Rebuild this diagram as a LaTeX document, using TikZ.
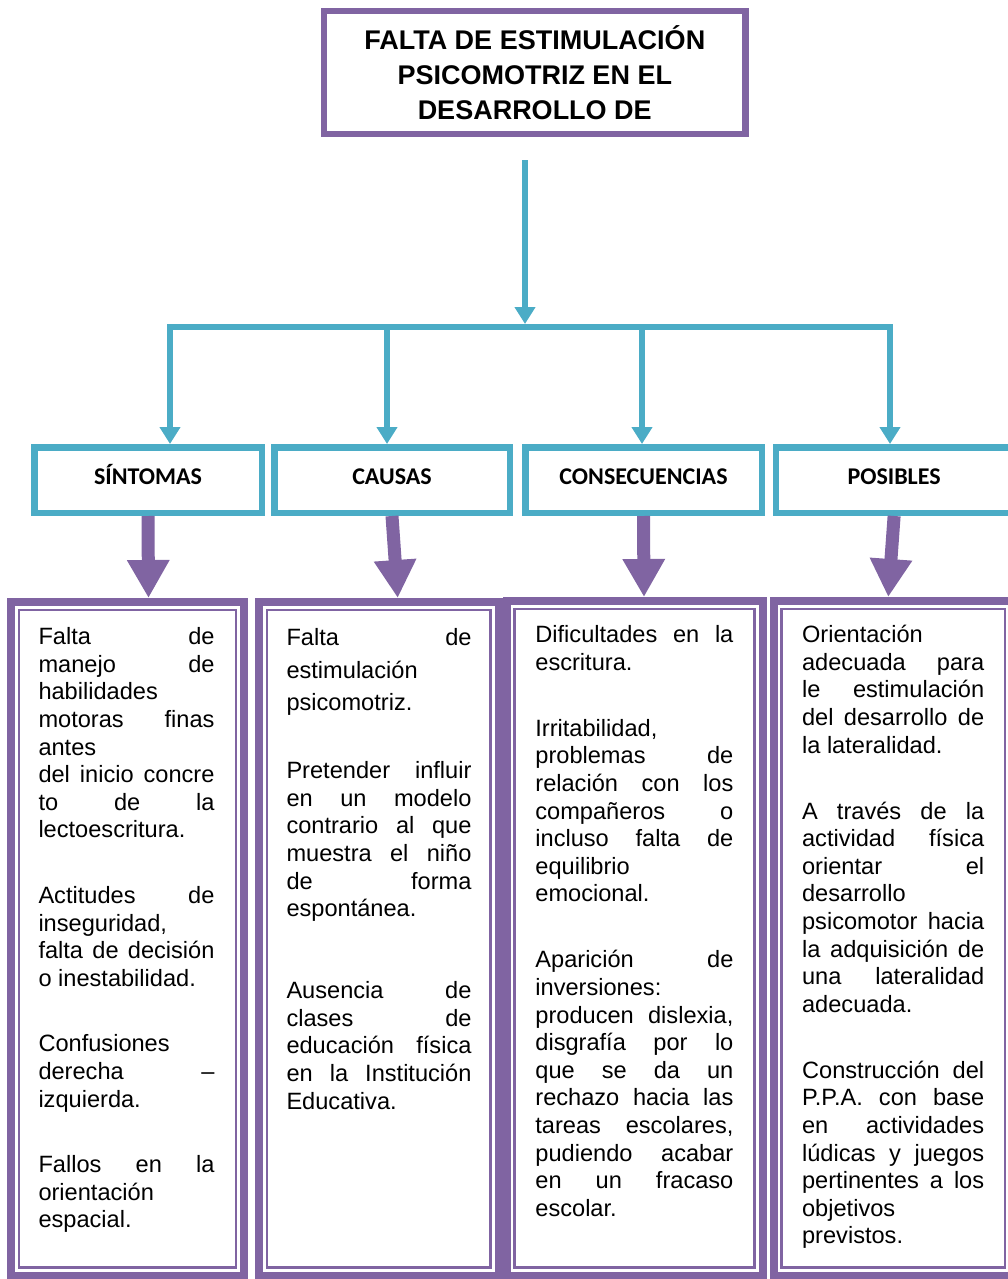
\documentclass[tikz,border=0pt]{standalone}
\usepackage{fontspec}
\setmainfont{Liberation Sans}
\newfontfamily\catfont{Carlito}
\usetikzlibrary{arrows.meta,calc}
\definecolor{boxpurple}{HTML}{8064A2}
\definecolor{boxteal}{HTML}{4BACC6}
\newcommand\jline[1]{\hbox to\hsize{\vrule width0pt height20pt\relax #1}}
\newcommand\lline[1]{\hbox{\spaceskip=0pt\relax\vrule width0pt height20pt\relax #1}}
\newcommand\pbreak[1][38pt]{\vskip #1\relax}
\newcommand\boxtext[2]{\vbox{\hsize=#1\relax\frenchspacing\baselineskip=27.6pt\lineskiplimit=0pt\lineskip=0pt\spaceskip=\fontdimen2\font plus 1fil\relax\xspaceskip=\spaceskip #2}}
\begin{document}
\begin{tikzpicture}[x=1pt,y=-1pt,
  titlebox/.style={draw=boxpurple, line width=6.5pt, minimum width=421.5pt, minimum height=123pt, inner sep=0pt, align=center, font=\bfseries\fontsize{27}{35}\selectfont},
  catbox/.style={draw=boxteal, line width=6.5pt, minimum height=65.5pt, inner sep=0pt, text height=15pt, text depth=7pt, font=\catfont\bfseries\fontsize{24}{28}\selectfont},
  bigbox/.style={draw=boxpurple, line width=8pt, inner sep=0pt},
  txt/.style={anchor=north west, inner sep=0pt, font=\fontsize{23.6}{27.6}\selectfont},
  tealline/.style={draw=boxteal, line width=6pt},
  tealarrow/.style={tealline, -{Triangle[width=20pt,length=17pt]}},
  bigarrow/.style={draw=boxpurple, line width=13pt, -{Triangle[width=40pt,length=38pt]}},
  innerline/.style={draw=boxpurple, line width=2.2pt}]
\useasboundingbox (0,0) rectangle (1008,1279);

% title
\node[titlebox] (title) at (534.75,72.5) {FALTA DE ESTIMULACIÓN\\PSICOMOTRIZ EN EL\\DESARROLLO DE};

% categories
\node[catbox, minimum width=227.5pt] (cat1) at (148,480) {SÍNTOMAS};
\node[catbox, minimum width=235.5pt] (cat2) at (392,480) {CAUSAS};
\node[catbox, minimum width=236.5pt] (cat3) at (643.5,480) {CONSECUENCIAS};
\node[catbox, minimum width=235.75pt] (cat4) at (894.1,480) {POSIBLES};

% big boxes
\node[bigbox, minimum width=233pt, minimum height=673.5pt] (box1) at (127.5,938.75) {};
\node[bigbox, minimum width=239.5pt, minimum height=673.5pt] (box2) at (378.75,938.75) {};
\node[bigbox, minimum width=256pt, minimum height=674.5pt] (box3) at (634.5,938.25) {};
\node[bigbox, minimum width=239.5pt, minimum height=674.5pt] (box4) at (893.25,938.25) {};
\foreach \b in {box1,box2,box3,box4}
  \draw[innerline] ($(\b.north west)+(12,12)$) rectangle ($(\b.south east)+(-12,-12)$);

% teal connectors
\coordinate (topstart) at (525,160);
\coordinate (busT) at (525,324);
\coordinate (b1) at (170,327);
\coordinate (b2) at (387,327);
\coordinate (b3) at (642,327);
\coordinate (b4) at (890,327);
\draw[tealarrow] (topstart) -- (busT);
\draw[tealline, line cap=rect] (b1) -- (b4);
\foreach \i in {1,...,4}
  \draw[tealarrow] (b\i) -- (b\i |- cat\i.north);

% purple block arrows
\draw[bigarrow] (cat1.south) -- ($(box1.north)+(21,0)$);
\draw[bigarrow] (cat2.south) -- ($(box2.north)+(19,0)$);
\draw[bigarrow] (cat3.south) -- ($(box3.north)+(9.5,0)$);
\draw[bigarrow] (cat4.south) -- ($(box4.north)+(-5,0)$);

% texts
\node[txt] (t1) at (38.3,624.5) {\boxtext{176pt}{%
\jline{Falta de}
\jline{manejo de}
\lline{habilidades}
\jline{motoras finas}
\lline{antes}
\jline{del inicio concre}
\jline{to de la}
\lline{lectoescritura.}
\pbreak
\jline{Actitudes de}
\lline{inseguridad,}
\jline{falta de decisión}
\lline{o inestabilidad.}
\pbreak
\lline{Confusiones}
\jline{derecha –}
\lline{izquierda.}
\pbreak
\jline{Fallos en la}
\lline{orientación}
\lline{espacial.}}};

\node[txt] (t2) at (286.3,625.5) {\boxtext{185pt}{%
\baselineskip=32.5pt
\jline{Falta de}
\lline{estimulación}
\lline{psicomotriz.}
\baselineskip=27.6pt \pbreak[40.4pt]
\jline{Pretender influir}
\jline{en un modelo}
\jline{contrario al que}
\jline{muestra el niño}
\jline{de forma}
\lline{espontánea.}
\pbreak[54.4pt]
\jline{Ausencia de}
\jline{clases de}
\jline{educación física}
\jline{en la Institución}
\lline{Educativa.}}};

\node[txt] (t3) at (535.2,622.5) {\boxtext{198pt}{%
\jline{Dificultades en la}
\lline{escritura.}
\pbreak[38.4pt]
\lline{Irritabilidad,}
\jline{problemas de}
\jline{relación con los}
\jline{compañeros o}
\jline{incluso falta de}
\lline{equilibrio}
\lline{emocional.}
\pbreak[38.4pt]
\jline{Aparición de}
\lline{inversiones:}
\jline{producen dislexia,}
\jline{disgrafía por lo}
\jline{que se da un}
\jline{rechazo hacia las}
\jline{tareas escolares,}
\jline{pudiendo acabar}
\jline{en un fracaso}
\lline{escolar.}}};

\node[txt] (t4) at (801.9,622.5) {\boxtext{182.1pt}{%
\lline{Orientación}
\jline{adecuada para}
\jline{le estimulación}
\jline{del desarrollo de}
\lline{la lateralidad.}
\pbreak[38.4pt]
\jline{A través de la}
\jline{actividad física}
\jline{orientar el}
\lline{desarrollo}
\jline{psicomotor hacia}
\jline{la adquisición de}
\jline{una lateralidad}
\lline{adecuada.}
\pbreak[38.4pt]
\jline{Construcción del}
\jline{P.P.A. con base}
\jline{en actividades}
\jline{lúdicas y juegos}
\jline{pertinentes a los}
\lline{objetivos}
\lline{previstos.}}};
\end{tikzpicture}
\end{document}
